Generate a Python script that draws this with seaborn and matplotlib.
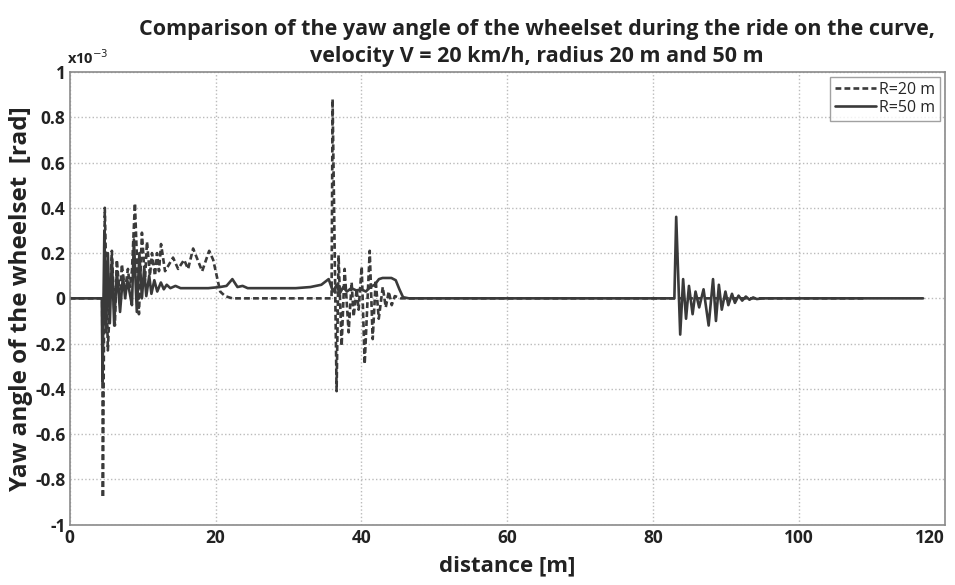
import numpy as np
import pandas as pd
import matplotlib
matplotlib.use("Agg")
import matplotlib.pyplot as plt
import seaborn as sns

# ---- data (yaw angle in units of 1e-3 rad) ----
r20_x = [0, 4.45, 4.55, 4.81, 5.23, 5.78, 6.19, 6.46, 6.88, 7.15, 7.57, 7.98, 8.25,
         8.53, 8.94, 9.49, 9.90, 10.32, 10.59, 11.00, 11.28, 11.69, 11.97, 12.24,
         12.52, 13.07, 14.17, 14.86, 15.68, 16.23, 16.92, 18.16, 19.12, 19.67,
         20.63, 21.30, 22.28, 35.90, 36.04, 36.59, 36.86, 37.28, 37.69, 38.24,
         38.65, 38.93, 39.34, 39.61, 40.03, 40.44, 41.13, 41.54, 41.95, 42.37,
         42.92, 43.33, 43.74, 44.15, 44.57, 45.39, 109.1]
r20_y = [0, 0, -0.88, 0.40, -0.23, 0.21, -0.12, 0.17, 0.00, 0.15, 0.03, 0.13, 0.05,
         0.12, 0.42, -0.07, 0.29, 0.08, 0.25, 0.10, 0.20, 0.10, 0.20, 0.12,
         0.24, 0.12, 0.18, 0.13, 0.17, 0.13, 0.22, 0.12, 0.21, 0.17,
         0.03, 0.01, 0.0, 0.0, 0.88, -0.41, 0.19, -0.21, 0.13, -0.15,
         0.07, -0.08, 0.04, -0.05, 0.14, -0.29, 0.21, -0.18, 0.08, -0.09,
         0.05, -0.04, 0.03, -0.03, 0.01, 0.0, 0.0]

r50_x = [0, 4.40, 4.50, 4.75, 5.00, 5.23, 5.50, 5.78, 6.10, 6.46, 6.90, 7.30, 7.60,
         7.90, 8.25, 8.53, 8.80, 9.20, 9.55, 9.90, 10.20, 10.50, 10.90, 11.20,
         11.60, 12.00, 12.50, 12.90, 13.30, 13.80, 14.50, 15.20, 17.0, 19.0, 20.6,
         21.5, 22.3, 23.0, 23.7, 24.4, 25.0, 28.0, 31.0, 33.0, 34.5, 35.5, 36.1,
         36.6, 37.0, 37.5, 38.0, 38.6, 39.3, 40.0, 40.6, 41.2, 41.8, 42.4, 42.9,
         44.1, 44.7, 45.2, 45.7, 46.5, 82.9, 83.15, 83.70, 84.10, 84.50, 84.90,
         85.40, 85.80, 86.30, 86.90, 87.60, 88.20, 88.60, 89.00, 89.40, 89.90,
         90.30, 90.80, 91.20, 91.70, 92.20, 92.70, 93.20, 93.70, 94.20, 95.0, 117.0]
r50_y = [0, 0, -0.37, 0.30, -0.15, 0.20, -0.11, 0.18, -0.12, 0.12, -0.06, 0.10, 0.00,
         0.08, 0.02, -0.03, 0.26, -0.06, 0.20, 0.00, 0.13, 0.01, 0.10, 0.02,
         0.08, 0.03, 0.07, 0.04, 0.06, 0.045, 0.055, 0.045, 0.045, 0.045, 0.05,
         0.055, 0.085, 0.05, 0.055, 0.045, 0.045, 0.045, 0.045, 0.05, 0.06, 0.085, 0.03,
         0.06, 0.02, 0.05, 0.03, 0.045, 0.035, 0.04, 0.03, 0.05, 0.06, 0.085, 0.09,
         0.09, 0.08, 0.04, 0.005, 0.0, 0.0, 0.36, -0.16, 0.085, -0.09, 0.055,
         -0.07, 0.03, -0.04, 0.04, -0.12, 0.085, -0.10, 0.06, -0.05, 0.03,
         -0.03, 0.02, -0.02, 0.012, -0.01, 0.008, -0.006, 0.004, -0.003, 0.0, 0.0]

x_ticks = [0, 20, 40, 60, 80, 100, 120]
y_ticks = [-1, -0.8, -0.6, -0.4, -0.2, 0, 0.2, 0.4, 0.6, 0.8, 1]
y_tick_labels = ['-1', '-0.8', '-0.6', '-0.4', '-0.2', '0', '0.2', '0.4', '0.6', '0.8', '1']

series_names = ['R=20 m', 'R=50 m']

df = pd.concat([
    pd.DataFrame({'distance': r20_x, 'yaw': r20_y, 'series': series_names[0]}),
    pd.DataFrame({'distance': r50_x, 'yaw': r50_y, 'series': series_names[1]}),
], ignore_index=True)

sns.set_style("white")
plt.rcParams['font.family'] = ['Open Sans', 'DejaVu Sans']
plt.rcParams['axes.unicode_minus'] = False

fig = plt.figure(figsize=(9.55, 5.85), dpi=100)
ax = fig.add_axes([0.073, 0.103, 0.9165, 0.774])

line_col = '#3a3a3a'
sns.lineplot(data=df[df.series == series_names[0]], x='distance', y='yaw',
             sort=False, estimator=None, ax=ax, color=line_col, lw=1.9,
             linestyle=(0, (2.2, 1.2)), label=series_names[0])
sns.lineplot(data=df[df.series == series_names[1]], x='distance', y='yaw',
             sort=False, estimator=None, ax=ax, color=line_col, lw=1.9,
             linestyle='-', label=series_names[1])

ax.set_xlim(0, 120)
ax.set_ylim(-1, 1)
ax.set_xticks(x_ticks)
ax.set_xticklabels([str(t) for t in x_ticks], fontsize=12.5, fontweight='bold', color='#222222')
xt = ax.get_xticklabels()
xt[-1].set_ha('right')
ax.set_yticks(y_ticks)
ax.set_yticklabels(y_tick_labels, fontsize=12.5, fontweight='bold', color='#222222')
ax.tick_params(direction='in', length=5, width=1, color='#888888', pad=3)
ax.grid(True, linestyle=':', color='#bbbbbb', linewidth=1)
for s in ax.spines.values():
    s.set_color('#8a8a8a')
    s.set_linewidth(1.2)

ax.set_xlabel('distance [m]', fontsize=16, fontweight='bold', color='#222222', labelpad=6)
ax.set_ylabel('Yaw angle of the wheelset  [rad]', fontsize=17.5, fontweight='bold',
              color='#222222', labelpad=2)

ax.text(-0.003, 1.01, 'x10$^{-3}$', transform=ax.transAxes, fontsize=10.5,
        fontweight='bold', color='#222222', ha='left', va='bottom')

fig.text(0.562, 0.968, 'Comparison of the yaw angle of the wheelset during the ride on the curve,\n'
         'velocity V = 20 km/h, radius 20 m and 50 m', ha='center', va='top',
         fontsize=15.5, fontweight='bold', color='#222222', linespacing=1.38)

leg = ax.legend(loc='upper right', fontsize=11.5, handlelength=2.6, frameon=True,
                fancybox=False, borderpad=0.3, labelspacing=0.15, handletextpad=0.2,
                borderaxespad=0.3)
leg.get_frame().set_edgecolor('#8a8a8a')
leg.get_frame().set_linewidth(1.0)

fig.savefig('out.png', dpi=100)
